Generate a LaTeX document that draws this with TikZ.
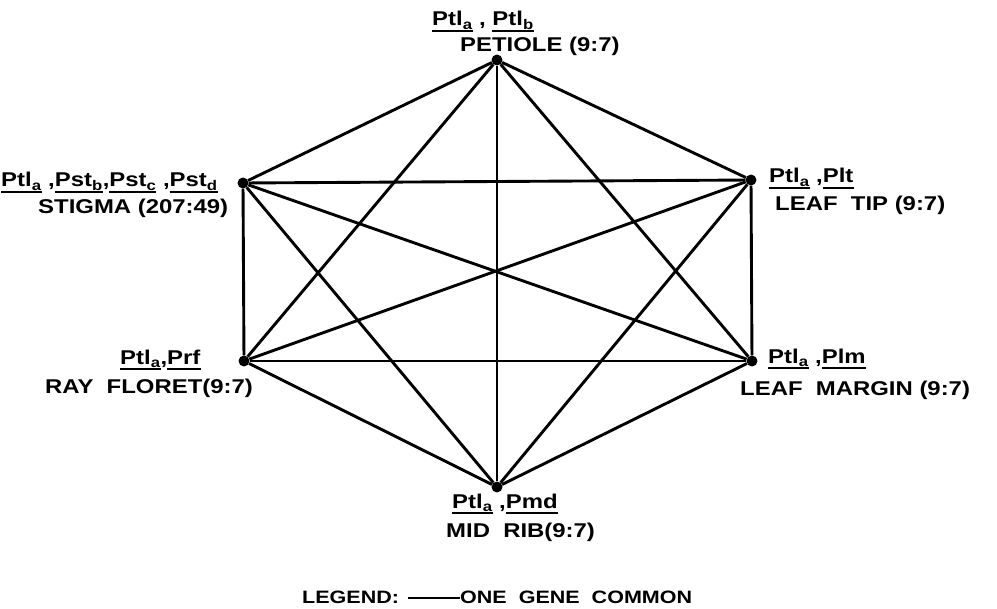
\documentclass[tikz,border=0pt]{standalone}
\usepackage{fontspec}
\setmainfont{Liberation Sans}[FakeStretch=1.2]
\usetikzlibrary{positioning}
% underlined gene symbol with a heavy rule
\newcommand{\gn}[2]{\setbox0\hbox{#1\textsubscript{#2}}\rlap{\rule[-6pt]{\wd0}{1.8pt}}\box0\relax}
\tikzset{
	vtx/.style={circle, fill=black, inner sep=0pt, minimum size=11pt},
	link/.style={line width=2.9pt},
	lbl/.style={font=\fontsize{20}{22}\selectfont\bfseries, inner sep=0pt, anchor=base west},
}
\begin{document}
\begin{tikzpicture}[x=1bp, y=-1bp]
	\useasboundingbox (0,0) rectangle (997,609);
	% tissues
	\node[vtx] (pet) at (497,60) {};
	\node[vtx] (stig) at (243,183) {};
	\node[vtx] (tip) at (751,180) {};
	\node[vtx] (ray) at (244,361) {};
	\node[vtx] (marg) at (752,361) {};
	\node[vtx] (mid) at (497,487) {};
	\foreach \a/\b in {pet/stig, pet/tip, pet/ray, pet/marg, pet/mid,
		stig/tip, stig/ray, stig/marg, stig/mid,
		tip/ray, tip/marg, tip/mid,
		ray/marg, ray/mid, marg/mid}
		\draw[link] (\a) -- (\b);
	% labels
	\node[lbl] (p1) at (432,26) {\gn{Ptl}{a} , \gn{Ptl}{b}};
	\node[lbl] (p2) at (460,52) {PETIOLE (9:7)};
	\node[lbl] (s1) at (1,187) {\gn{Ptl}{a} ,\gn{Pst}{b},\gn{Pst}{c} ,\gn{Pst}{d}};
	\node[lbl] (s2) at (38,214) {STIGMA (207:49)};
	\node[lbl] (t1) at (769,183) {\gn{Ptl}{a} ,\gn{Plt}{}};
	\node[lbl] (t2) at (775,211) {LEAF\ \ TIP (9:7)};
	\node[lbl] (r1) at (120,364) {\gn{Ptl}{a},\gn{Prf}{}};
	\node[lbl] (r2) at (45,393) {RAY\ \ FLORET(9:7)};
	\node[lbl] (m1) at (768,363) {\gn{Ptl}{a} ,\gn{Plm}{}};
	\node[lbl] (m2) at (740,395) {LEAF\ \ MARGIN (9:7)};
	\node[lbl] (d1) at (452,508) {\gn{Ptl}{a} ,\gn{Pmd}{}};
	\node[lbl] (d2) at (446,537) {MID\ \ RIB(9:7)};
	% legend
	\node[lbl, font=\fontsize{18}{20}\selectfont\bfseries] (lg) at (302,603) {LEGEND:};
	\node[lbl, font=\fontsize{18}{20}\selectfont\bfseries] (lgt) at (460,603) {ONE\ \ GENE\ \ COMMON};
	\draw[line width=2pt] ([xshift=-52bp,yshift=-1bp]lgt.west) -- ([yshift=-1bp]lgt.west);
\end{tikzpicture}
\end{document}
